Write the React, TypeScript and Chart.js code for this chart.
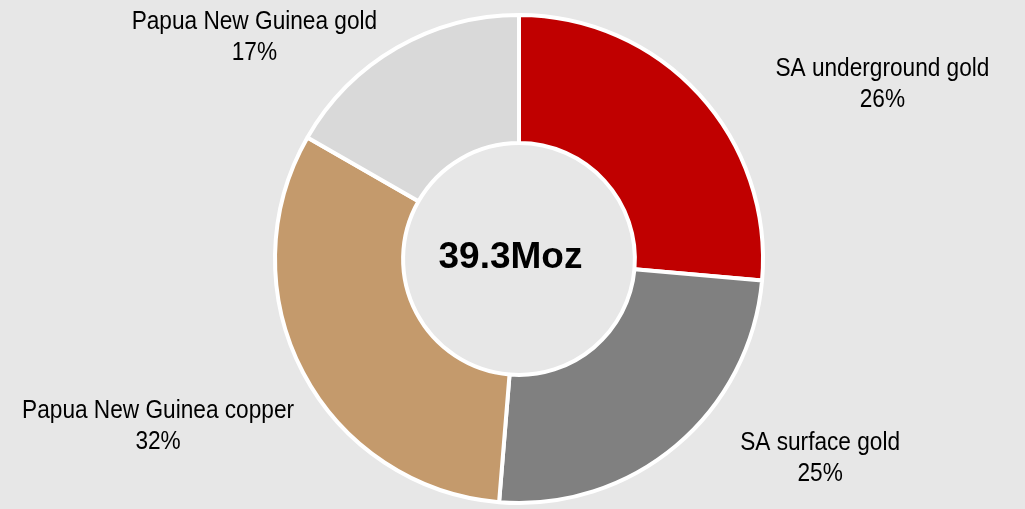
import React, { useEffect, useRef } from "react";
import { Chart, registerables } from "chart.js";

Chart.register(...registerables);

const categories = ["SA underground gold", "SA surface gold", "Papua New Guinea copper", "Papua New Guinea gold"];
const shares = [26.4, 24.9, 32.0, 16.7];
const percentLabels = ["26%", "25%", "32%", "17%"];
const centreText = "39.3Moz";
const colours = ["#C00000", "#808080", "#C49A6C", "#D9D9D9"];
// label placement: angle from top (deg, clockwise) and distance as multiple of outer radius
const labelAngles = [65.0, 124.2, 244.4, 309.3];
const labelDistances = [1.63, 1.48, 1.627, 1.39];

const BG = "#e7e7e7";
const LABEL_FONT = "26px 'Liberation Sans', Arial, sans-serif";
const LABEL_SCALE_X = 0.871;
const LINE_GAP = 31;
const LABEL_DROP = 2;
const CENTRE_FONT = "bold 37px 'Liberation Sans', Arial, sans-serif";

const labelPlugin = {
  id: "donutLabels",
  afterDraw(chart: any) {
    const meta = chart.getDatasetMeta(0);
    const arc = meta.data[0];
    if (!arc) return;
    const { x, y, outerRadius } = arc.getProps(["x", "y", "outerRadius"], true);
    const R = outerRadius + 2;
    const ctx = chart.ctx;
    ctx.save();
    ctx.fillStyle = "#000";
    ctx.textAlign = "center";
    ctx.textBaseline = "alphabetic";
    ctx.font = LABEL_FONT;
    categories.forEach((c, i) => {
      const a = (labelAngles[i] * Math.PI) / 180;
      const lx = x + Math.sin(a) * R * labelDistances[i];
      const ly = y - Math.cos(a) * R * labelDistances[i] + LABEL_DROP;
      ctx.save();
      ctx.translate(lx, ly);
      ctx.scale(LABEL_SCALE_X, 1);
      ctx.fillText(c, 0, -LINE_GAP / 2);
      ctx.fillText(percentLabels[i], 0, LINE_GAP / 2);
      ctx.restore();
    });
    ctx.font = CENTRE_FONT;
    ctx.fillText(centreText, x - 8.5, y + 9.3);
    ctx.restore();
  },
};

export default function App() {
  const ref = useRef<HTMLCanvasElement>(null);
  useEffect(() => {
    document.body.style.margin = "0";
    document.body.style.background = BG;
    const chart = new Chart(ref.current!, {
      type: "doughnut",
      data: {
        labels: categories,
        datasets: [
          {
            data: shares,
            backgroundColor: colours,
            borderColor: "#ffffff",
            borderWidth: 4,
            hoverOffset: 0,
          },
        ],
      },
      options: {
        responsive: false,
        animation: false,
        cutout: "47.5%",
        layout: { padding: { top: 13, bottom: 4, left: 13, right: 0 } },
        plugins: { legend: { display: false }, tooltip: { enabled: false } },
      },
      plugins: [labelPlugin],
    });
    return () => chart.destroy();
  }, []);
  return (
    <div style={{ width: 1025, height: 509, background: BG }}>
      <canvas ref={ref} width={1025} height={509} style={{ display: "block" }} />
    </div>
  );
}
